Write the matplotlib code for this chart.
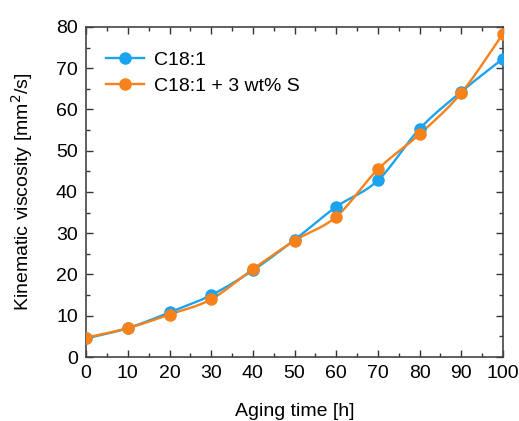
import numpy as np
import matplotlib
matplotlib.use("Agg")
import matplotlib.pyplot as plt
from matplotlib.ticker import MultipleLocator

plt.rcParams['font.family'] = ['Liberation Sans', 'DejaVu Sans']

# data
aging_time = [0, 10, 20, 30, 40, 50, 60, 70, 80, 90, 100]
visc_c18 = [4.5, 7.0, 10.8, 15.0, 21.0, 28.4, 36.4, 42.8, 55.3, 64.3, 72.3]
visc_c18_s = [4.7, 7.0, 10.3, 14.0, 21.3, 28.2, 34.0, 45.5, 54.0, 64.0, 78.3]

blue = '#1aa3ef'
orange = '#f7821b'


def smooth(x, y, n=20):
    # catmull-rom through the points, like the spline connector in the original
    x = np.asarray(x, float)
    y = np.asarray(y, float)
    px = np.concatenate([[2 * x[0] - x[1]], x, [2 * x[-1] - x[-2]]])
    py = np.concatenate([[2 * y[0] - y[1]], y, [2 * y[-1] - y[-2]]])
    xs, ys = [], []
    t = np.linspace(0, 1, n, endpoint=False)
    for i in range(1, len(px) - 2):
        for p, out in ((px, xs), (py, ys)):
            p0, p1, p2, p3 = p[i - 1], p[i], p[i + 1], p[i + 2]
            out.append(0.5 * (2 * p1 + (-p0 + p2) * t + (2 * p0 - 5 * p1 + 4 * p2 - p3) * t ** 2
                              + (-p0 + 3 * p1 - 3 * p2 + p3) * t ** 3))
    xs.append([x[-1]])
    ys.append([y[-1]])
    return np.concatenate(xs), np.concatenate(ys)


fig = plt.figure(figsize=(5.19, 4.21), dpi=100)
ax = fig.add_axes([0.166, 0.152, 0.803, 0.784])

for yv, col, lab in [(visc_c18, blue, 'C18:1'), (visc_c18_s, orange, 'C18:1 + 3 wt% S')]:
    sx, sy = smooth(aging_time, yv)
    ax.plot(sx, sy, color=col, lw=1.7, zorder=2)
    ax.plot(aging_time, yv, 'o', color=col, ms=8, zorder=3)
    ax.plot([], [], '-o', color=col, lw=1.7, ms=8, label=lab)

ax.set_xlim(0, 100)
ax.set_ylim(0, 80)
ax.xaxis.set_major_locator(MultipleLocator(10))
ax.xaxis.set_minor_locator(MultipleLocator(5))
ax.yaxis.set_major_locator(MultipleLocator(10))
ax.yaxis.set_minor_locator(MultipleLocator(5))
ax.tick_params(which='both', direction='in', top=True, right=True, color='#333333', width=1)
ax.tick_params(which='major', length=5, labelsize=14, pad=6)
ax.tick_params(which='minor', length=3)
for s in ax.spines.values():
    s.set_color('#444444')
    s.set_linewidth(1.2)

ax.set_xlabel('Aging time [h]', fontsize=14, labelpad=15)
ax.set_ylabel('Kinematic viscosity [mm$^2$/s]', fontsize=14, labelpad=15)

ax.legend(loc='upper left', frameon=False, fontsize=14, handlelength=2.0,
          borderaxespad=0.6, handletextpad=0.5, labelspacing=0.42,
          bbox_to_anchor=(0.0, 0.985))

fig.savefig('out.png', dpi=100)
